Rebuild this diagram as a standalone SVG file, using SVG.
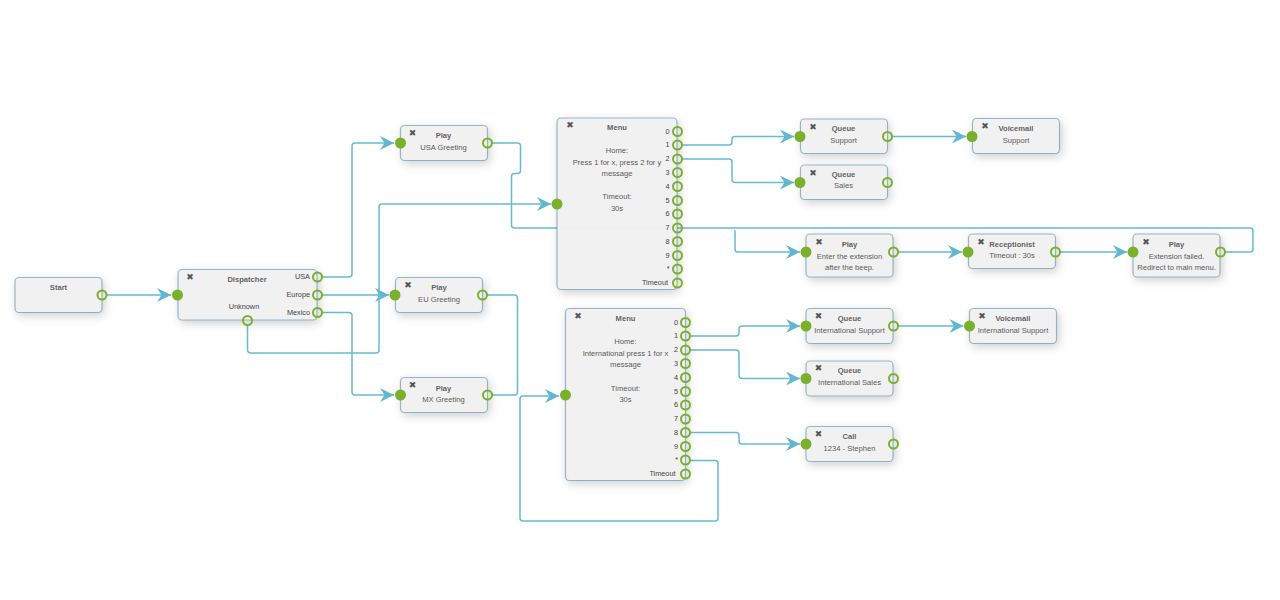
<svg xmlns="http://www.w3.org/2000/svg" width="1280" height="600" viewBox="0 0 1280 600">
<style>
text{font-family:"Liberation Sans",Arial,sans-serif;font-size:7.6px;fill:#5a5a5a;text-anchor:middle;transform:translateY(-.5px)}
.t{fill:#444;font-weight:bold;fill-opacity:.85}
.l{font-size:7.3px;text-anchor:end;fill:#444}
.x{font-family:"DejaVu Sans",sans-serif;font-size:9px;fill:#555}
.b{fill:#f1f1f1;fill-opacity:.96;stroke:#346789;stroke-opacity:.45;stroke-width:1.2;filter:url(#s)}
.in{fill:#7ab02c}
.out{fill:none;stroke:#7ab02c;stroke-width:2}
.c{fill:none;stroke:#66bad3;stroke-width:1.5}
</style>
<defs>
<filter id="s" x="-30%" y="-30%" width="160%" height="170%"><feDropShadow dx="2" dy="3" stdDeviation="5" flood-color="#000" flood-opacity=".2"/></filter>
<marker id="a" markerUnits="userSpaceOnUse" markerWidth="16" markerHeight="16" refX="15" refY="8" orient="auto" overflow="visible"><path d="M1,1 L15,8 L1,15 L5.500,8 Z" fill="#61b7cf"/></marker>
</defs>
<g id="connectors">
<path class="c" marker-end="url(#a)" d="M107,295H171"/>
<path class="c" marker-end="url(#a)" d="M322,277H349Q352,277 352,274V146Q352,143 355,143H394"/>
<path class="c" marker-end="url(#a)" d="M322,295H389"/>
<path class="c" marker-end="url(#a)" d="M322,312.500H349Q352,312.500 352,315.500V392Q352,395 355,395H394"/>
<path class="c" marker-end="url(#a)" d="M247.500,325V349.500Q247.500,353 251,353H376Q379,353 379,350V207Q379,204 382,204H551"/>
<path class="c" d="M492,143H517.500Q520.500,143 520.500,146V170.500Q520.500,173.500 517.500,173.500H514.500Q511.500,173.500 511.500,176.500V225Q511.500,228 514.500,228H1250Q1253,228 1253,231V249Q1253,252 1250,252H1225"/>
<path class="c" marker-end="url(#a)" d="M735,230V249Q735,252 738,252H800"/>
<path class="c" d="M487,295H514.500Q517.500,295 517.500,298V392Q517.500,395 514.500,395H492"/>
<path class="c" marker-end="url(#a)" d="M690,460.500H715Q718,460.500 718,463.500V518Q718,521 715,521H523Q520,521 520,518V399Q520,396 523,396H559"/>
<path class="c" marker-end="url(#a)" d="M682,145H729Q732,145 732,142V139.500Q732,136.500 735,136.500H794"/>
<path class="c" marker-end="url(#a)" d="M682,159H729Q732,159 732,162V179.500Q732,182.500 735,182.500H794"/>
<path class="c" marker-end="url(#a)" d="M690,336H736Q739,336 739,333V329Q739,326 742,326H800"/>
<path class="c" marker-end="url(#a)" d="M690,350H736Q739,350 739,353V375.500Q739,378.500 742,378.500H800"/>
<path class="c" marker-end="url(#a)" d="M690,432.500H736Q739,432.500 739,435.500V441Q739,444 742,444H800"/>
<path class="c" marker-end="url(#a)" d="M892,136.500H966"/>
<path class="c" marker-end="url(#a)" d="M898,252H962"/>
<path class="c" marker-end="url(#a)" d="M1060,252H1127"/>
<path class="c" marker-end="url(#a)" d="M898,326H963.500"/>
</g>
<g id="start"><rect class="b" x="15" y="277.500" width="87" height="35" rx="4"/><text class="t" x="58.500" y="290">Start</text><circle class="out" cx="102" cy="295" r="4.500"/></g>
<g id="dispatcher"><rect class="b" x="178" y="269.500" width="139" height="50.500" rx="4"/><text class="x" x="190" y="280">✖</text><text class="t" x="247" y="282">Dispatcher</text><text class="l" x="310" y="279.500">USA</text><text class="l" x="310" y="297.500">Europe</text><text class="l" x="310" y="315">Mexico</text><text class="l" style="text-anchor:middle" x="244" y="309.500">Unknown</text><circle class="in" cx="177.500" cy="295" r="5.500"/><circle class="out" cx="317.500" cy="277" r="4.500"/><circle class="out" cx="317.500" cy="295" r="4.500"/><circle class="out" cx="317.500" cy="312.500" r="4.500"/><circle class="out" cx="247.500" cy="320.500" r="4.500"/></g>
<g id="play-usa"><rect class="b" x="400.500" y="125.500" width="87" height="35" rx="4"/><text class="x" x="412.500" y="136">✖</text><text class="t" x="443.500" y="138">Play</text><text x="443.500" y="150">USA Greeting</text><circle class="in" cx="400.500" cy="143" r="5.500"/><circle class="out" cx="487.500" cy="143" r="4.500"/></g>
<g id="play-eu"><rect class="b" x="395.500" y="277.500" width="87" height="35" rx="4"/><text class="x" x="408" y="288">✖</text><text class="t" x="439" y="290">Play</text><text x="439" y="302">EU Greeting</text><circle class="in" cx="395" cy="295" r="5.500"/><circle class="out" cx="482.500" cy="295" r="4.500"/></g>
<g id="play-mx"><rect class="b" x="400.500" y="377.500" width="87" height="35" rx="4"/><text class="x" x="412.500" y="388.500">✖</text><text class="t" x="443.500" y="391">Play</text><text x="443.500" y="402.500">MX Greeting</text><circle class="in" cx="400.500" cy="395" r="5.500"/><circle class="out" cx="487.500" cy="395" r="4.500"/></g>
<g id="menu-home"><rect class="b" x="557" y="118" width="120" height="171.500" rx="4"/><text class="x" x="570" y="128">✖</text><text class="t" x="617" y="130.500">Menu</text><text x="617" y="153.500">Home:</text><text x="617" y="165">Press 1 for x, press 2 for y</text><text x="617" y="176.500">message</text><text x="617" y="199">Timeout:</text><text x="617" y="211">30s</text>
<text class="l" x="669.500" y="134">0</text><text class="l" x="669.500" y="147.500">1</text><text class="l" x="669.500" y="161.500">2</text><text class="l" x="669.500" y="175">3</text><text class="l" x="669.500" y="189">4</text><text class="l" x="669.500" y="203">5</text><text class="l" x="669.500" y="216.500">6</text><text class="l" x="669.500" y="230.500">7</text><text class="l" x="669.500" y="244">8</text><text class="l" x="669.500" y="258">9</text><text class="l" x="669.500" y="271.500">*</text><text class="l" x="668" y="285.500">Timeout</text>
<circle class="in" cx="557" cy="204" r="5.500"/><circle class="out" cx="677.500" cy="131.500" r="4.500"/><circle class="out" cx="677.500" cy="145" r="4.500"/><circle class="out" cx="677.500" cy="159" r="4.500"/><circle class="out" cx="677.500" cy="172.500" r="4.500"/><circle class="out" cx="677.500" cy="186.500" r="4.500"/><circle class="out" cx="677.500" cy="200.500" r="4.500"/><circle class="out" cx="677.500" cy="214" r="4.500"/><circle class="out" cx="677.500" cy="228" r="4.500"/><circle class="out" cx="677.500" cy="241.500" r="4.500"/><circle class="out" cx="677.500" cy="255.500" r="4.500"/><circle class="out" cx="677.500" cy="269" r="4.500"/><circle class="out" cx="677.500" cy="283" r="4.500"/></g>
<g id="menu-intl"><rect class="b" x="565.500" y="308.500" width="120" height="172" rx="4"/><text class="x" x="578" y="319">✖</text><text class="t" x="625.500" y="321">Menu</text><text x="625.500" y="344">Home:</text><text x="625.500" y="356">International press 1 for x</text><text x="625.500" y="367">message</text><text x="625.500" y="391">Timeout:</text><text x="625.500" y="402">30s</text>
<text class="l" x="678" y="325">0</text><text class="l" x="678" y="338.500">1</text><text class="l" x="678" y="352.500">2</text><text class="l" x="678" y="366">3</text><text class="l" x="678" y="380">4</text><text class="l" x="678" y="394">5</text><text class="l" x="678" y="407.500">6</text><text class="l" x="678" y="421.500">7</text><text class="l" x="678" y="435">8</text><text class="l" x="678" y="449">9</text><text class="l" x="678" y="462.500">*</text><text class="l" x="675.500" y="476.500">Timeout</text>
<circle class="in" cx="565.500" cy="395" r="5.500"/><circle class="out" cx="685.500" cy="322.500" r="4.500"/><circle class="out" cx="685.500" cy="336" r="4.500"/><circle class="out" cx="685.500" cy="350" r="4.500"/><circle class="out" cx="685.500" cy="363.500" r="4.500"/><circle class="out" cx="685.500" cy="377.500" r="4.500"/><circle class="out" cx="685.500" cy="391.500" r="4.500"/><circle class="out" cx="685.500" cy="405" r="4.500"/><circle class="out" cx="685.500" cy="419" r="4.500"/><circle class="out" cx="685.500" cy="432.500" r="4.500"/><circle class="out" cx="685.500" cy="446.500" r="4.500"/><circle class="out" cx="685.500" cy="460" r="4.500"/><circle class="out" cx="685.500" cy="474" r="4.500"/></g>
<g id="queue-support"><rect class="b" x="800.500" y="119" width="87" height="34.500" rx="4"/><text class="x" x="813" y="130">✖</text><text class="t" x="843.500" y="131.500">Queue</text><text x="843.500" y="143.500">Support</text><circle class="in" cx="800" cy="136.500" r="5.500"/><circle class="out" cx="887.500" cy="136.500" r="4.500"/></g>
<g id="queue-sales"><rect class="b" x="800.500" y="165" width="87" height="34.500" rx="4"/><text class="x" x="813" y="176">✖</text><text class="t" x="843.500" y="177.500">Queue</text><text x="843.500" y="188.500">Sales</text><circle class="in" cx="800" cy="182.500" r="5.500"/><circle class="out" cx="887.500" cy="182.500" r="4.500"/></g>
<g id="voicemail-support"><rect class="b" x="972.500" y="118.500" width="87" height="35" rx="4"/><text class="x" x="985" y="129.500">✖</text><text class="t" x="1016" y="131.500">Voicemail</text><text x="1016" y="143.500">Support</text><circle class="in" cx="972" cy="136.500" r="5.500"/></g>
<g id="play-extension"><rect class="b" x="806" y="234" width="87" height="43" rx="4"/><text class="x" x="819" y="245.500">✖</text><text class="t" x="849.500" y="247.500">Play</text><text x="849.500" y="259">Enter the extension</text><text x="849.500" y="270.500">after the beep.</text><circle class="in" cx="806" cy="252" r="5.500"/><circle class="out" cx="893.500" cy="252" r="4.500"/></g>
<g id="receptionist"><rect class="b" x="968.500" y="234" width="87" height="34.500" rx="4"/><text class="x" x="981" y="245">✖</text><text class="t" x="1012" y="247.500">Receptionist</text><text x="1012" y="258.500">Timeout : 30s</text><circle class="in" cx="968" cy="252" r="5.500"/><circle class="out" cx="1055.500" cy="252" r="4.500"/></g>
<g id="play-failed"><rect class="b" x="1133" y="234" width="87" height="43" rx="4"/><text class="x" x="1146" y="245">✖</text><text class="t" x="1176.500" y="247.500">Play</text><text x="1176.500" y="259">Extension failed.</text><text x="1176.500" y="270.500">Redirect to main menu.</text><circle class="in" cx="1133" cy="252" r="5.500"/><circle class="out" cx="1220.500" cy="252" r="4.500"/></g>
<g id="queue-intl-support"><rect class="b" x="806" y="308.500" width="87" height="35" rx="4"/><text class="x" x="818.500" y="319">✖</text><text class="t" x="849.500" y="321">Queue</text><text x="849.500" y="333">International Support</text><circle class="in" cx="806" cy="326" r="5.500"/><circle class="out" cx="893.500" cy="326" r="4.500"/></g>
<g id="voicemail-intl"><rect class="b" x="969.500" y="308.500" width="87" height="35" rx="4"/><text class="x" x="982" y="319">✖</text><text class="t" x="1013" y="321">Voicemail</text><text x="1013" y="333">International Support</text><circle class="in" cx="969.500" cy="326" r="5.500"/></g>
<g id="queue-intl-sales"><rect class="b" x="806" y="361" width="87" height="35" rx="4"/><text class="x" x="818.500" y="371.500">✖</text><text class="t" x="849.500" y="373">Queue</text><text x="849.500" y="385">International Sales</text><circle class="in" cx="806" cy="378.500" r="5.500"/><circle class="out" cx="893.500" cy="378.500" r="4.500"/></g>
<g id="call"><rect class="b" x="806" y="426.500" width="87" height="35" rx="4"/><text class="x" x="818.500" y="437">✖</text><text class="t" x="849.500" y="439">Call</text><text x="849.500" y="451">1234 - Stephen</text><circle class="in" cx="806" cy="444" r="5.500"/><circle class="out" cx="893.500" cy="444" r="4.500"/></g>
</svg>
